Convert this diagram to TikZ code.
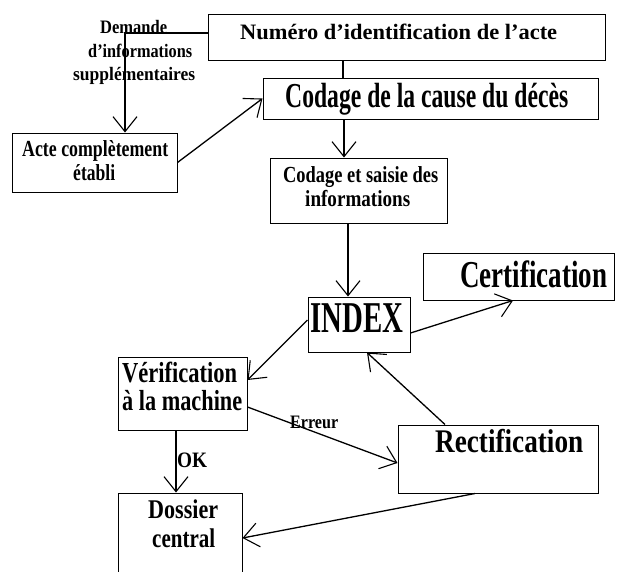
\documentclass[tikz,border=0pt]{standalone}
\usepackage{fontspec}
\usepackage{graphicx}
\setmainfont{Liberation Serif}[BoldFont={Liberation Serif Bold}]
\usetikzlibrary{arrows.meta}
\newcommand\tx[3]{\resizebox{#1pt}{\height}{\fontsize{#2}{#2}\selectfont\bfseries #3}}
\tikzset{
  box/.style={draw, line width=1pt, inner sep=0pt, rectangle},
  txt/.style={inner sep=0pt, anchor=base west},
  conn/.style={line width=1.3pt},
  arr/.style={conn, -{Straight Barb[length=15pt, width=24pt, line width=1.1pt]}}
}
\begin{document}
\begin{tikzpicture}[x=1pt, y=-1pt]
\useasboundingbox (0,0) rectangle (619,571);
\clip (0,0) rectangle (619,571);
% boxes
\node[box, minimum width=397pt, minimum height=46pt] (num) at (406.5,37) {};
\node[box, minimum width=335pt, minimum height=41pt] (cod) at (430.5,98.5) {};
\node[box, minimum width=165pt, minimum height=59pt] (acte) at (94.5,162.5) {};
\node[box, minimum width=177pt, minimum height=65pt] (saisie) at (358.5,190.5) {};
\node[box, minimum width=102pt, minimum height=55pt] (index) at (359,324.5) {};
\node[box, minimum width=191pt, minimum height=47pt] (cert) at (518.5,276.5) {};
\node[box, minimum width=129pt, minimum height=73pt] (verif) at (182.5,393.5) {};
\node[box, minimum width=200pt, minimum height=68pt] (rect) at (498,459) {};
\node[box, minimum width=124pt, minimum height=104pt] (dossier) at (180,545) {};
% texts
\node[txt] (tnum) at (240,39) {\tx{317}{22}{Numéro d’identification de l’acte}};
\node[txt] (tcod) at (285,107) {\tx{283}{35}{Codage de la cause du décès}};
\node[txt] (td1) at (100,33) {\tx{67}{19}{Demande}};
\node[txt] (td2) at (88,57) {\tx{104}{19}{d’informations}};
\node[txt] (td3) at (73,80) {\tx{122}{19}{supplémentaires}};
\node[txt] (ta1) at (22,156) {\tx{146}{23}{Acte complètement}};
\node[txt] (ta2) at (73,180) {\tx{42}{23}{établi}};
\node[txt] (ts1) at (283,182) {\tx{155}{23}{Codage et saisie des}};
\node[txt] (ts2) at (305,206) {\tx{105}{23}{informations}};
\node[txt] (tindex) at (310,332) {\tx{93}{44}{INDEX}};
\node[txt] (tcert) at (460,287) {\tx{147}{38}{Certification}};
\node[txt] (tv1) at (122,382) {\tx{115}{29}{Vérification}};
\node[txt] (tv2) at (122,410) {\tx{120}{29}{à la machine}};
\node[txt] (terr) at (290,428) {\tx{48}{19}{Erreur}};
\node[txt] (tok) at (177,467) {\tx{30}{22}{OK}};
\node[txt] (tdo1) at (148,518) {\tx{70}{27}{Dossier}};
\node[txt] (tdo2) at (152,547) {\tx{63}{27}{central}};
\node[txt] (trect) at (435,452) {\tx{148}{33}{Rectification}};
% connectors
\draw[conn] ([xshift=-63.5pt]num.south) -- ([xshift=-63.5pt]num.south |- cod.north);
\draw[arr] ([yshift=4pt]num.west) -| ([xshift=30.5pt]acte.north);
\draw[arr] (acte.east) -- (cod.west);
\draw[arr] ([xshift=-86.5pt]cod.south) -- ([xshift=-86.5pt]cod.south |- saisie.north);
\draw[arr] ([xshift=-10.5pt]saisie.south) -- ([xshift=-10.5pt]saisie.south |- index.north);
\draw[arr] ([yshift=-8.5pt]index.east) -- ([xshift=-5.5pt]cert.south);
\draw[arr] ([yshift=4.5pt]index.west) -- ([yshift=13.5pt]verif.east);
\draw[arr] ([xshift=-6.5pt]verif.south) -- ([xshift=-6.5pt]verif.south |- dossier.north);
\draw[arr] ([yshift=-13.5pt]verif.east) -- ([yshift=-4pt]rect.west);
\draw[arr] ([xshift=-53pt]rect.north) -- ([xshift=8pt]index.south);
\draw[arr] ([xshift=-23pt]rect.south) -- ([yshift=7pt]dossier.east);
\end{tikzpicture}
\end{document}
